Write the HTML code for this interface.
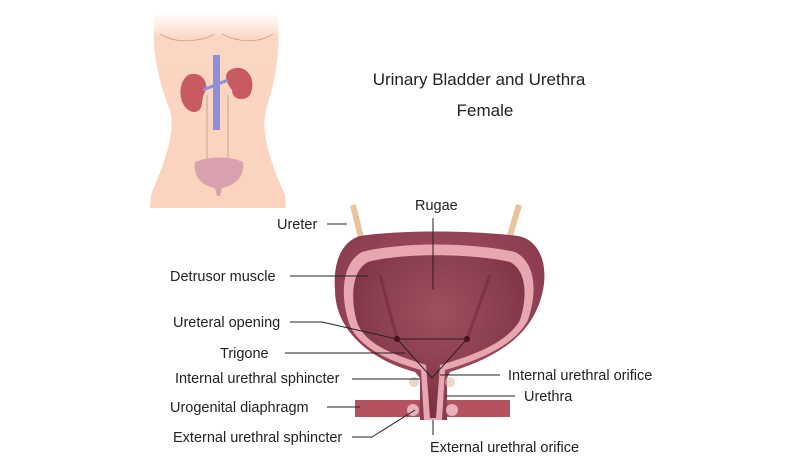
<!DOCTYPE html>
<html><head><meta charset="utf-8"><style>
body{margin:0;background:#fff;width:800px;height:462px;overflow:hidden}
svg text{font-family:"Liberation Sans",sans-serif;fill:#222}
</style></head><body>
<svg width="800" height="462" viewBox="0 0 800 462">
<defs>
<linearGradient id="fade" x1="0" y1="0" x2="0" y2="1">
<stop offset="0" stop-color="#fde3d5" stop-opacity="0.2"/><stop offset="0.12" stop-color="#fbd6c3"/><stop offset="1" stop-color="#fbd3be"/></linearGradient>
<radialGradient id="bl" cx="0.5" cy="0.4" r="0.6"><stop offset="0" stop-color="#a95668"/><stop offset="1" stop-color="#8a3a4e"/></radialGradient>
<radialGradient id="cav" cx="0.5" cy="0.35" r="0.6"><stop offset="0" stop-color="#a0505f"/><stop offset="1" stop-color="#7d3344"/></radialGradient>
</defs>
<!-- body -->
<path d="M155,15 L277,15 C282,50 274,85 266,110 C260,135 272,165 285,195 L286,208 L150,208 L151,195 C163,165 176,135 170,110 C160,85 150,50 155,15Z" fill="url(#fade)"/>
<path d="M160,34 C175,44 200,42 215,34 M222,34 C237,42 258,44 273,34" stroke="#c9a090" fill="none" stroke-width="0.8"/>
<path d="M207,95 L207,160 M228,95 L228,160" stroke="#e2bda5" stroke-width="2" fill="none"/>
<rect x="213" y="55" width="7" height="75" fill="#8d8fd8"/>
<path d="M188,75 C200,70 210,82 205,92 C200,100 205,110 195,112 C180,112 175,85 188,75Z" fill="#c85a62"/>
<path d="M230,70 C245,62 258,78 250,95 C244,102 232,100 232,90 C228,85 222,75 230,70Z" fill="#c85a62"/>
<path d="M203,90 L228,80" stroke="#8d8fd8" stroke-width="3"/>
<path d="M195,162 C210,156 230,156 243,162 C245,178 233,186 222,188 L220,196 L217,196 L215,188 C203,186 193,178 195,162Z" fill="#d9a0ad"/>
<!-- title -->
<text x="479" y="85" font-size="17" text-anchor="middle">Urinary Bladder and Urethra</text>
<text x="485" y="116" font-size="17" text-anchor="middle">Female</text>
<!-- ureters -->
<path d="M353,205 L362,242" stroke="#e8c49c" stroke-width="6"/>
<path d="M519,205 L508,242" stroke="#e8c49c" stroke-width="6"/>
<!-- diaphragm -->
<rect x="355" y="400" width="155" height="17" fill="#b5525f"/>
<!-- bladder -->
<path d="M360,236 C400,230 470,230 518,236 C540,240 548,265 543,290 C535,330 505,355 450,372 L447,378 L447,420 L420,420 L420,378 L415,372 C370,360 335,330 335,290 C333,265 340,242 360,236Z" fill="url(#bl)"/>
<path d="M362,252 C400,242 470,242 515,252 C535,262 538,290 528,320 C515,345 480,360 445,370 L442,420 L424,420 L421,370 C385,360 355,345 348,320 C340,292 343,262 362,252Z" fill="#e7a7b0"/>
<path d="M368,262 C400,253 470,253 510,262 C526,270 528,295 520,320 C508,342 475,355 440,365 L436,418 L430,418 L426,365 C395,355 365,345 357,322 C350,298 352,270 368,262Z" fill="url(#cav)"/>
<path d="M380,275 L397,339 M490,275 L467,339" stroke="#74283a" stroke-width="3" fill="none" opacity="0.6"/>
<circle cx="414" cy="382" r="5" fill="#dba" opacity=".6"/><circle cx="450" cy="382" r="5" fill="#dba" opacity=".6"/>
<circle cx="413" cy="410" r="6" fill="#e8b0b8"/><circle cx="452" cy="410" r="6" fill="#e8b0b8"/>
<!-- lines -->
<g stroke="#222" stroke-width="1" fill="none">
<path d="M397,339 L467,339 L432,378 Z"/>
<path d="M347,224 L327,224"/>
<path d="M368,276 L290,276"/>
<path d="M290,322 L322,322 L397,339"/>
<path d="M285,353 L405,353"/>
<path d="M352,379 L420,379"/>
<path d="M327,407 L360,407"/>
<path d="M352,437 L372,437 L415,410"/>
<path d="M440,375 L500,375"/>
<path d="M445,396 L515,396"/>
<path d="M433,420 L433,435"/>
<path d="M433,218 L433,290"/>
</g>
<circle cx="397" cy="339" r="3" fill="#4a1020"/><circle cx="467" cy="339" r="3" fill="#4a1020"/>
<g font-size="14.5">
<text x="277" y="229">Ureter</text>
<text x="170" y="281">Detrusor muscle</text>
<text x="173" y="327">Ureteral opening</text>
<text x="220" y="358">Trigone</text>
<text x="175" y="383">Internal urethral sphincter</text>
<text x="170" y="412">Urogenital diaphragm</text>
<text x="173" y="442">External urethral sphincter</text>
<text x="415" y="210">Rugae</text>
<text x="508" y="380">Internal urethral orifice</text>
<text x="524" y="401">Urethra</text>
<text x="430" y="452">External urethral orifice</text>
</g>
</svg>
</body></html>
